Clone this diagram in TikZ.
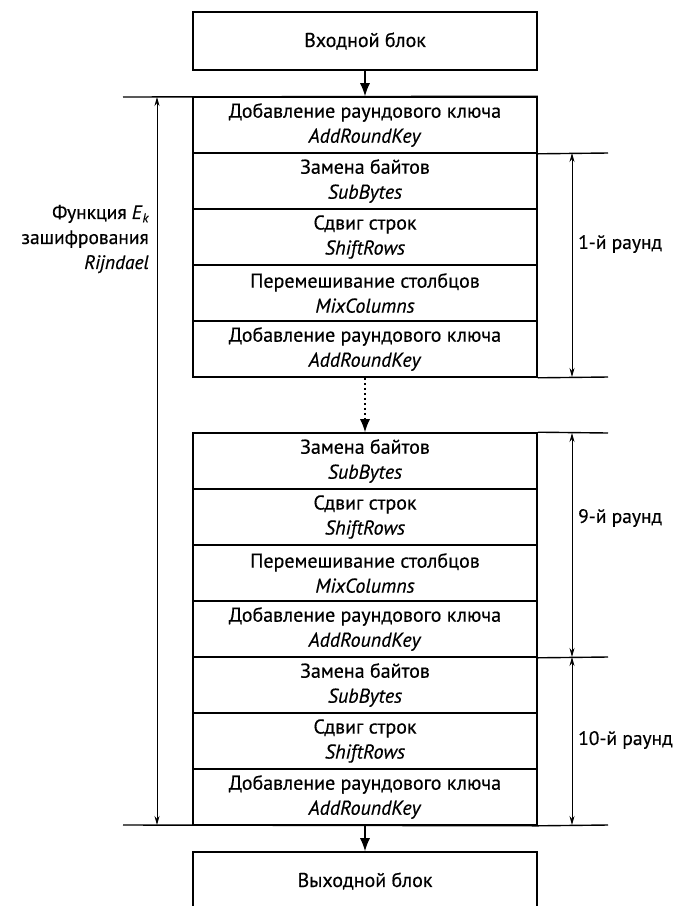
\documentclass[tikz,border=0pt]{standalone}
\usepackage{fontspec}
\setmainfont{PT Sans}[FakeBold=0.4]
\usetikzlibrary{arrows.meta}
\begin{document}
\begin{tikzpicture}[x=1pt,y=-1pt,
  font=\fontsize{20}{25}\selectfont,
  stage/.style={draw, line width=1.6pt, minimum width=344pt, minimum height=56pt,
    inner sep=0pt, align=center},
  endbox/.style={stage, minimum height=58pt},
  flow/.style={line width=1.2pt, -{Latex[length=13pt,width=10pt]}},
  ref/.style={line width=1.4pt},
  dim/.style={line width=0.9pt, {Stealth[length=9pt,width=5pt]}-{Stealth[length=9pt,width=5pt]}},
  lbl/.style={inner sep=0pt, font=\fontsize{19.5}{25}\selectfont}]
\useasboundingbox (0,0) rectangle (679,906);
\fill[white] (0,0) rectangle (679,906);

% input and output blocks
\node[endbox] (in) at (365,41) {Входной блок};
\node[endbox] (out) at (365,881) {Выходной блок};

% initial key addition and the first round
\node[stage] (a1) at (365,125) {Добавление раундового ключа\\\textit{AddRoundKey}};
\node[stage] (a2) at (365,181) {Замена байтов\\\textit{SubBytes}};
\node[stage] (a3) at (365,237) {Сдвиг строк\\\textit{ShiftRows}};
\node[stage] (a4) at (365,293) {Перемешивание столбцов\\\textit{MixColumns}};
\node[stage] (a5) at (365,349) {Добавление раундового ключа\\\textit{AddRoundKey}};

% ninth and tenth rounds
\node[stage] (b1) at (365,461) {Замена байтов\\\textit{SubBytes}};
\node[stage] (b2) at (365,517) {Сдвиг строк\\\textit{ShiftRows}};
\node[stage] (b3) at (365,573) {Перемешивание столбцов\\\textit{MixColumns}};
\node[stage] (b4) at (365,629) {Добавление раундового ключа\\\textit{AddRoundKey}};
\node[stage] (b5) at (365,685) {Замена байтов\\\textit{SubBytes}};
\node[stage] (b6) at (365,741) {Сдвиг строк\\\textit{ShiftRows}};
\node[stage] (b7) at (365,797) {Добавление раундового ключа\\\textit{AddRoundKey}};

% data flow
\draw[flow] (in.south) -- (a1.north);
\draw[flow, dash pattern=on 2pt off 3pt] (a5.south) -- (b1.north);
\draw[flow] (b7.south) -- (out.north);

% reference lines
\coordinate (lt) at (123,97);
\coordinate (lb) at (123,825);
\coordinate (r1) at (608,153);
\coordinate (r2) at (608,377);
\coordinate (r3) at (608,433);
\coordinate (r4) at (608,657);
\coordinate (r5) at (608,825);
\draw[ref] (lt) -- (a1.north east);
\draw[ref] (lb) -- (b7.south east) -- (r5);
\draw[ref] (a1.south east) -- (r1);
\draw[ref] (a5.south east) -- (r2);
\draw[ref] (b1.north east) -- (r3);
\draw[ref] (b4.south east) -- (r4);

% extents of the cipher and of the rounds
\coordinate (et) at (157,97);
\coordinate (eb) at (157,825);
\draw[dim] (et) -- (eb);
\coordinate (k1t) at (572,153);
\coordinate (k1b) at (572,377);
\coordinate (k9t) at (572,433);
\coordinate (k9b) at (572,657);
\coordinate (k10b) at (572,825);
\draw[dim] (k1t) -- (k1b);
\draw[dim] (k9t) -- (k9b);
\draw[dim] (k9b) -- (k10b);

% labels
\node[lbl, anchor=east, align=right] (fn) at (149,239)
  {Функция \textit{E}\raisebox{-0.35ex}{\fontsize{13}{13}\selectfont\textit{k}}\\зашифрования\\\textit{Rijndael}};
\node[lbl, anchor=west] (n1) at (578,244) {1-й раунд};
\node[lbl, anchor=west] (n9) at (578,518) {9-й раунд};
\node[lbl, anchor=west] (n10) at (578,740) {10-й раунд};
\end{tikzpicture}
\end{document}
